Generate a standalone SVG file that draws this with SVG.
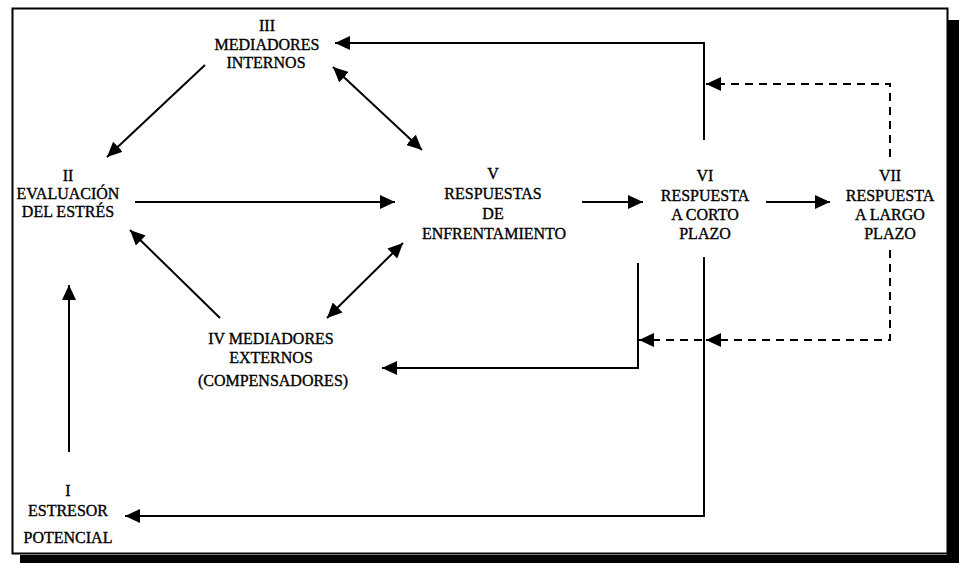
<svg xmlns="http://www.w3.org/2000/svg" width="959" height="563" viewBox="0 0 959 563">
<defs>
<style>
text{font-family:"Liberation Serif","Times New Roman",serif;font-size:16px;fill:#000;stroke:#000;stroke-width:0.35;text-anchor:middle}
.c{fill:none;stroke:#000;stroke-width:2}
.d{fill:none;stroke:#000;stroke-width:2;stroke-dasharray:8 6}
</style>
<marker id="ah" viewBox="0 0 15 14" refX="15" refY="7" markerWidth="15" markerHeight="14" markerUnits="userSpaceOnUse" orient="auto-start-reverse">
<path d="M0,0 L15,7 L0,14 Z" fill="#000"/>
</marker>
</defs>
<rect width="959" height="563" fill="#fff"/>
<g id="frame">
<rect x="12.5" y="8.5" width="935" height="545" fill="none" stroke="#000" stroke-width="2"/>
<rect x="947" y="20" width="12" height="543" fill="#000"/>
<rect x="20" y="555" width="939" height="8" fill="#000"/>
</g>
<g id="connectors">
<path class="c" d="M69,452 L69,285" marker-end="url(#ah)"/>
<path class="c" d="M135,202 L395,202" marker-end="url(#ah)"/>
<path class="c" d="M205,65 L107,157" marker-end="url(#ah)"/>
<path class="c" d="M333,67 L422,150" marker-start="url(#ah)" marker-end="url(#ah)"/>
<path class="c" d="M220,318 L130,230" marker-end="url(#ah)"/>
<path class="c" d="M327,318 L403,243" marker-start="url(#ah)" marker-end="url(#ah)"/>
<path class="c" d="M582,202 L643,202" marker-end="url(#ah)"/>
<path class="c" d="M766,202 L830,202" marker-end="url(#ah)"/>
<path class="c" d="M704,140 L704,43 L335,43" marker-end="url(#ah)"/>
<path class="d" d="M890,157 L890,84 L706,84" marker-end="url(#ah)"/>
<path class="d" d="M890,250 L890,340 L706,340" marker-end="url(#ah)"/>
<path class="d" d="M702,340 L639,340" marker-end="url(#ah)"/>
<path class="c" d="M638,263 L638,368 L382,368" marker-end="url(#ah)"/>
<path class="c" d="M704,257 L704,516 L125,516" marker-end="url(#ah)"/>
</g>
<g id="n1">
<text x="68" y="496">I</text>
<text x="68" y="516">ESTRESOR</text>
<text x="68" y="543">POTENCIAL</text>
</g>
<g id="n2">
<text x="68" y="181">II</text>
<text x="68" y="199">EVALUACIÓN</text>
<text x="68" y="217">DEL ESTRÉS</text>
</g>
<g id="n3">
<text x="267" y="31">III</text>
<text x="267" y="50">MEDIADORES</text>
<text x="266" y="68">INTERNOS</text>
</g>
<g id="n4">
<text x="271" y="344">IV MEDIADORES</text>
<text x="271" y="363">EXTERNOS</text>
<text x="273" y="386">(COMPENSADORES)</text>
</g>
<g id="n5">
<text x="493" y="179">V</text>
<text x="493" y="199">RESPUESTAS</text>
<text x="493" y="219">DE</text>
<text x="494" y="239">ENFRENTAMIENTO</text>
</g>
<g id="n6">
<text x="705" y="181">VI</text>
<text x="705" y="201">RESPUESTA</text>
<text x="705" y="220">A CORTO</text>
<text x="705" y="239">PLAZO</text>
</g>
<g id="n7">
<text x="890" y="181">VII</text>
<text x="890" y="201">RESPUESTA</text>
<text x="890" y="220">A LARGO</text>
<text x="890" y="239">PLAZO</text>
</g>
</svg>
